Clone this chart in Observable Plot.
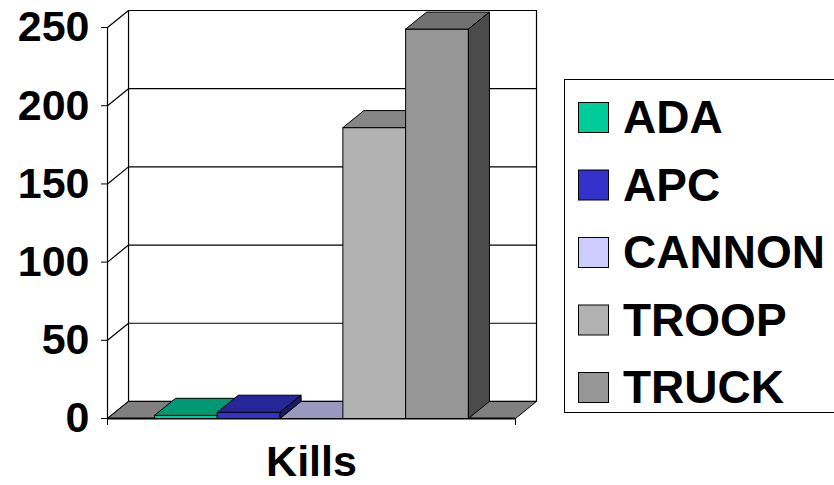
<!DOCTYPE html>
<html>
<head>
<meta charset="utf-8">
<script src="https://cdn.jsdelivr.net/npm/d3@7"></script>
<script src="https://cdn.jsdelivr.net/npm/@observablehq/plot@0.6"></script>
<style>
  html, body { margin: 0; padding: 0; background: #fff; overflow: hidden; }
  #wrap { position: relative; width: 834px; height: 485px; }
  #legend { position: absolute; left: 564px; top: 79px; }
  text { font-family: "Liberation Sans", Arial, sans-serif; }
</style>
</head>
<body>
<div id="wrap"></div>
<script>
// ---- data ----
const category = ["Kills"];
const series = ["ADA", "APC", "CANNON", "TROOP", "TRUCK"];
const kills = [2, 4, 0, 186, 249];
const seriesColors = ["#00CC99", "#3333CC", "#CCCCFF", "#B2B2B2", "#969696"];
const yTicks = [0, 50, 100, 150, 200, 250];

// ---- layout (3D projection in data units) ----
const GAP = 0.75;              // gap on each side of the cluster, in bar widths
const XMAX = series.length + 2 * GAP;
const DX = 0.335;              // depth offset along x
const DY = 10.9;               // depth offset along y
const YTOP = d3.max(yTicks);

function shade(c, k) {
  const r = d3.rgb(c);
  return d3.rgb(r.r * k, r.g * k, r.b * k).formatHex();
}

// polygons (closed paths) for the 3D bars, drawn in painter's order
const faces = [];
let pid = 0;
function poly(pts, fill) {
  const id = pid++;
  pts.concat([pts[0]]).forEach(([x, y]) => faces.push({id, x, y, fill}));
}
series.forEach((s, i) => {
  const v = kills[i];
  const x0 = GAP + i, x1 = x0 + 1;
  const c = seriesColors[i];
  poly([[x0, 0], [x1, 0], [x1, v], [x0, v]], c);
  poly([[x0, v], [x1, v], [x1 + DX, v + DY], [x0 + DX, v + DY]], shade(c, 0.75));
  poly([[x1, 0], [x1 + DX, DY], [x1 + DX, v + DY], [x1, v]], shade(c, 0.5));
});

// back wall gridlines + left wall slants
const grid = [];
yTicks.forEach((t, k) => {
  grid.push({id: k, x: 0, y: t});
  grid.push({id: k, x: DX, y: t + DY});
  grid.push({id: k, x: XMAX + DX, y: t + DY});
});
const walls = [
  {x1: 0, x2: 0, y1: 0, y2: YTOP},
  {x1: DX, x2: DX, y1: DY, y2: YTOP + DY},
  {x1: XMAX + DX, x2: XMAX + DX, y1: DY, y2: YTOP + DY}
];
const floor = [[0, 0], [XMAX, 0], [XMAX + DX, DY], [DX, DY], [0, 0]].map(([x, y]) => ({x, y}));

const FONT = "'Liberation Sans', Arial, sans-serif";

const chart = Plot.plot({
  width: 834,
  height: 485,
  marginLeft: 107,
  marginRight: 298,
  marginTop: 10,
  marginBottom: 67,
  style: {fontFamily: FONT, background: "#fff", overflow: "visible"},
  x: {domain: [0, XMAX + DX], axis: null},
  y: {domain: [0, YTOP + DY], axis: null},
  color: {type: "identity"},
  marks: [
    Plot.line(grid, {x: "x", y: "y", z: "id", stroke: "#000", strokeWidth: 1.2}),
    Plot.link(walls, {x1: "x1", x2: "x2", y1: "y1", y2: "y2", stroke: "#000", strokeWidth: 1.2}),
    Plot.line(floor, {x: "x", y: "y", fill: "#808080", stroke: "#000", strokeWidth: 1}),
    Plot.ruleY([0], {x1: 0, x2: XMAX, stroke: "#000", strokeWidth: 2}),
    Plot.line(faces, {x: "x", y: "y", z: "id", fill: "fill", stroke: "#000", strokeWidth: 1}),
    Plot.axisY({ticks: yTicks, tickSize: 6, tickPadding: 12, label: null,
      fontSize: 43, fontWeight: "bold", fontFamily: FONT, stroke: "#000", fill: "#000"}),
    Plot.axisX({ticks: [0, XMAX], tickSize: 7, tickFormat: () => "", label: null, stroke: "#000"}),
    Plot.axisX({ticks: [XMAX / 2], tickSize: 0, tickPadding: 27, tickFormat: () => category[0], label: null,
      fontSize: 43, fontWeight: "bold", fontFamily: FONT, fill: "#000"})
  ]
});
document.getElementById("wrap").appendChild(chart);

// ---- legend ----
const lg = d3.select("#wrap").append("svg")
  .attr("id", "legend").attr("width", 275).attr("height", 335);
lg.append("rect").attr("x", 0.5).attr("y", 0.5).attr("width", 300).attr("height", 333)
  .attr("fill", "#fff").attr("stroke", "#000");
series.forEach((s, i) => {
  const top = 23 + i * 67.5;
  lg.append("rect").attr("x", 14.5).attr("y", top + 0.5).attr("width", 30).attr("height", 30)
    .attr("fill", seriesColors[i]).attr("stroke", "#000");
  lg.append("text").attr("x", 59).attr("y", top + 31)
    .attr("font-size", 46).attr("font-weight", "bold").attr("font-family", FONT)
    .attr("fill", "#000").text(s);
});
</script>
</body>
</html>
